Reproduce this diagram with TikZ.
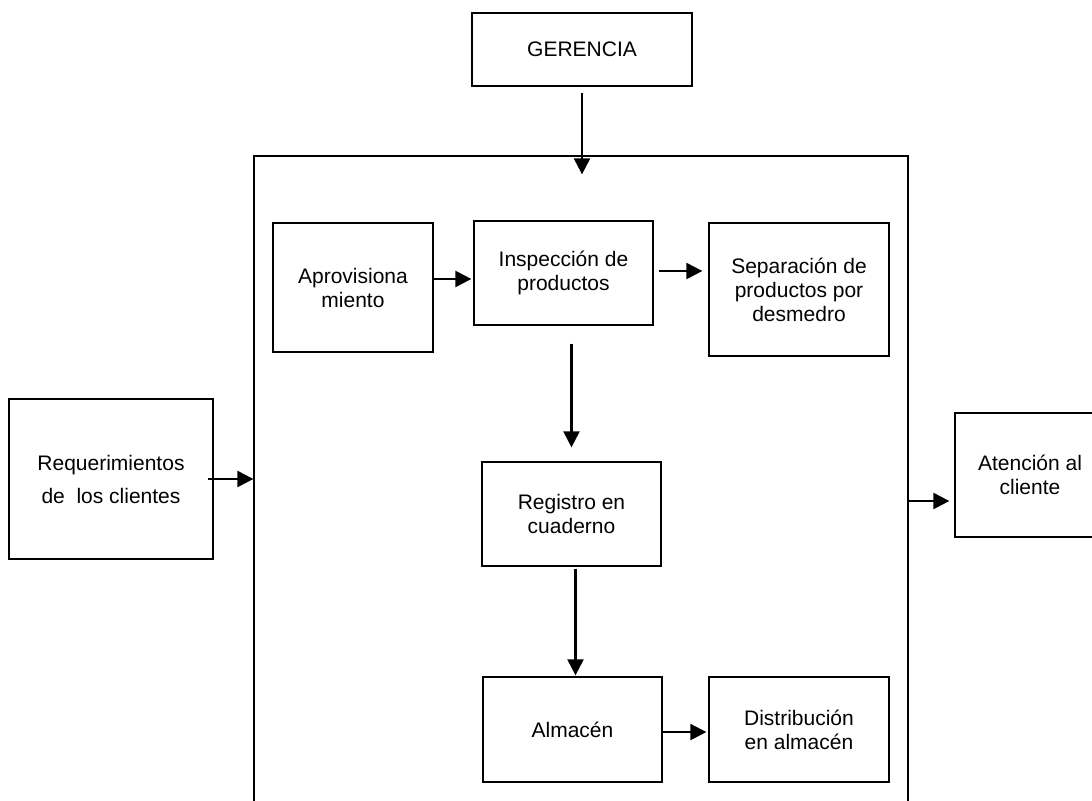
\documentclass[tikz,border=0pt]{standalone}
\usepackage{fontspec}
\setmainfont{Liberation Sans}
\usetikzlibrary{arrows.meta}
\begin{document}
\begin{tikzpicture}[x=0.75pt,y=-0.75pt,
  box/.style={draw, line width=0.95pt, rectangle, align=center, inner sep=0pt,
              font=\fontsize{15.75}{18}\selectfont},
  arr/.style={line width=1.6pt, -{Triangle[length=12pt,width=12pt]}}]
\useasboundingbox (0,0) rectangle (1092,800);
\clip (0,0) rectangle (1092,800);

% management on top
\node[box, minimum width=165pt, minimum height=54.75pt] (ger) at (582,49.5) {GERENCIA};

% enclosing process frame (runs past the lower edge)
\node[box, minimum width=490.5pt, minimum height=510pt] (proc) at (581,496) {};

% inner process steps
\node[box, minimum width=120pt, minimum height=96.75pt] (aprov) at (353,287.5) {Aprovisiona\\miento};
\node[box, minimum width=134.25pt, minimum height=78pt] (insp) at (563.5,273) {Inspección de\\productos};
\node[box, minimum width=135pt, minimum height=99.75pt] (sep) at (799,289.5) {Separación de\\productos por\\desmedro};
\node[box, minimum width=134.25pt, minimum height=78pt] (reg) at (571.5,514) {Registro en\\cuaderno};
\node[box, minimum width=134.25pt, minimum height=78.75pt] (alm) at (572.5,729.5) {Almacén};
\node[box, minimum width=135pt, minimum height=78.75pt] (dist) at (799,729.5) {Distribución\\en almacén};

% input and output
\node[box, minimum width=153pt, minimum height=120pt,
      font=\fontsize{15.75}{24.75}\selectfont] (req) at (111,479) {Requerimientos\\de\ \ los clientes};
\node[box, minimum width=112.5pt, minimum height=93pt] (aten) at (1030,475) {Atención al\\cliente};

% connectors
\draw[arr] ([yshift=-5pt]ger.south) -- ([yshift=-14.25pt]ger.south |- proc.north);
\draw[arr] ([yshift=6.4pt]aprov.east) -- ([yshift=6.4pt,xshift=-1.5pt]aprov.east -| insp.west);
\draw[arr] ([xshift=3.75pt,yshift=1.5pt]insp.east) -- ([xshift=-4.5pt,yshift=1.5pt]insp.east -| sep.west);
\draw[arr] ([yshift=-13.5pt]insp.south -| reg.north) -- ([yshift=10.5pt]reg.north);
\draw[arr] ([xshift=3pt,yshift=-1.5pt]reg.south) -- ([xshift=3pt,yshift=0.75pt]reg.south |- alm.north);
\draw[arr] ([yshift=-1.9pt]alm.east) -- ([yshift=-1.9pt,xshift=-1.5pt]alm.east -| dist.west);
\draw[arr] ([xshift=-4pt]req.east) -- (req.east -| proc.west);
\draw[arr] ([yshift=-3.75pt]proc.east) -- ([yshift=-3.75pt,xshift=-3.75pt]proc.east -| aten.west);
\end{tikzpicture}
\end{document}
